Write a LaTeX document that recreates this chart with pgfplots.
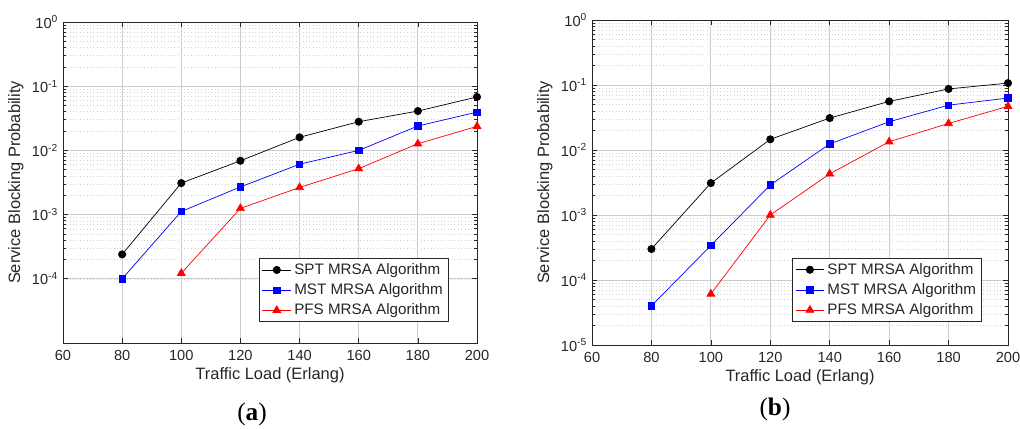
\documentclass[border=0pt]{standalone}
\usepackage{fontspec}
\setmainfont{Liberation Sans}
\newfontfamily\capfont{Liberation Serif}
\usepackage{pgfplots}
\pgfplotsset{compat=1.18}

\definecolor{txt}{RGB}{38,38,38}

\pgfplotsset{
    legend image code/.code={
        \draw[mark repeat=2, mark phase=2, #1]
          plot coordinates {(0cm,0cm)(0.36cm,0cm)(0.72cm,0cm)};},
}
\pgfplotsset{
    mlbase/.style={
        scale only axis,
        anchor=south west,
        xmin=60, xmax=200,
        ymin=1e-5, ymax=1,
        xtick={60,80,...,200},
        /pgf/number format/assume math mode=true,
        xmajorgrids=true, ymajorgrids=true, yminorgrids=true,
        major grid style={black!20, line width=0.7pt},
        minor grid style={black!18, dotted, line width=0.4pt},
        tick align=inside,
        major tick length=1.2mm, minor tick length=0.7mm,
        tick style={txt, line width=0.5pt},
        axis line style={txt, line width=0.6pt},
        tick label style={font=\fontsize{10.4}{12}\selectfont, text=txt},
        xticklabel style={yshift=-0.6mm},
        label style={font=\fontsize{11.7}{14}\selectfont, text=txt},
        xlabel={Traffic Load (Erlang)},
        ylabel={Service Blocking Probability},
        xlabel style={yshift=0.6mm},
        ylabel style={yshift=-0.3mm},
        legend style={
            at={(0.932,0.065)}, anchor=south east,
            draw=txt, fill=white, line width=0.6pt,
            font=\fontsize{10.8}{13}\selectfont, text=txt,
            row sep=1pt, inner xsep=2pt, inner ysep=1.5pt},
        legend cell align={left},
    },
}
\tikzset{
    spt/.style={black, line width=0.5pt, mark=*, mark size=2.6pt, mark options={solid, fill=black}},
    mst/.style={blue, line width=0.5pt, mark=square*, mark size=2.3pt, mark options={solid, fill=blue}},
    pfs/.style={red, line width=0.5pt, mark=triangle*, mark size=3.2pt, mark options={solid, fill=red}},
}

\begin{document}
\begin{tikzpicture}
    % panel (a)
    \begin{axis}[
        ymode=log,
        mlbase,
        at={(15.75mm,21.25mm)},
        width=103.5mm, height=80.25mm,
        ytick={1e-4,1e-3,1e-2,1e-1,1},
        yticklabels={10\textsuperscript{-4},10\textsuperscript{-3},10\textsuperscript{-2},10\textsuperscript{-1},10\textsuperscript{0}},
    ]
    \addplot[spt] coordinates {(80,2.4e-4)(100,3.1e-3)(120,6.9e-3)(140,1.6e-2)(160,2.8e-2)(180,4.1e-2)(200,6.8e-2)};
    \addlegendentry{SPT MRSA Algorithm}
    \addplot[mst] coordinates {(80,1.0e-4)(100,1.12e-3)(120,2.7e-3)(140,6.1e-3)(160,1.0e-2)(180,2.4e-2)(200,3.95e-2)};
    \addlegendentry{MST MRSA Algorithm}
    \addplot[pfs] coordinates {(100,1.22e-4)(120,1.25e-3)(140,2.65e-3)(160,5.2e-3)(180,1.27e-2)(200,2.37e-2)};
    \addlegendentry{PFS MRSA Algorithm}
    \end{axis}

    % panel (b)
    \begin{axis}[
        ymode=log,
        mlbase,
        at={(148mm,20.75mm)},
        width=104mm, height=81.25mm,
        legend style={at={(0.9375,0.071)}},
        ytick={1e-5,1e-4,1e-3,1e-2,1e-1,1},
        yticklabels={10\textsuperscript{-5},10\textsuperscript{-4},10\textsuperscript{-3},10\textsuperscript{-2},10\textsuperscript{-1},10\textsuperscript{0}},
    ]
    \addplot[spt] coordinates {(80,3.0e-4)(100,3.1e-3)(120,1.46e-2)(140,3.1e-2)(160,5.6e-2)(180,8.7e-2)(200,0.107)};
    \addlegendentry{SPT MRSA Algorithm}
    \addplot[mst] coordinates {(80,4.0e-5)(100,3.4e-4)(120,2.9e-3)(140,1.24e-2)(160,2.72e-2)(180,4.9e-2)(200,6.3e-2)};
    \addlegendentry{MST MRSA Algorithm}
    \addplot[pfs] coordinates {(100,6.1e-5)(120,1.0e-3)(140,4.3e-3)(160,1.34e-2)(180,2.56e-2)(200,4.7e-2)};
    \addlegendentry{PFS MRSA Algorithm}
    \end{axis}

    \node[font=\capfont\fontsize{18}{20}\selectfont] at (63mm,3.4mm) {(\textbf{a})};
    \node[font=\capfont\fontsize{18}{20}\selectfont] at (193.75mm,4.6mm) {(\textbf{b})};

    \pgfresetboundingbox
    \path[use as bounding box] (0,0) rectangle (255mm,107mm);
\end{tikzpicture}
\end{document}
